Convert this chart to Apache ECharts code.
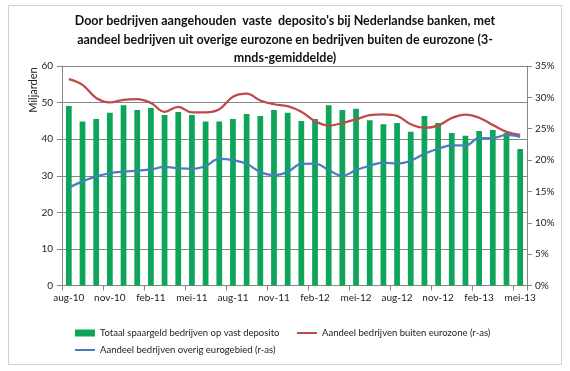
<!DOCTYPE html>
<html>
<head>
<meta charset="utf-8">
<script src="https://cdn.jsdelivr.net/npm/echarts@6/dist/echarts.min.js"></script>
<style>
html,body{margin:0;padding:0;background:#fff;}
#chart{width:570px;height:371px;}
</style>
</head>
<body>
<div id="chart"></div>
<script>
var categories = ['aug-10','sep-10','okt-10','nov-10','dec-10','jan-11','feb-11','mrt-11','apr-11','mei-11','jun-11','jul-11',
  'aug-11','sep-11','okt-11','nov-11','dec-11','jan-12','feb-12','mrt-12','apr-12','mei-12','jun-12','jul-12',
  'aug-12','sep-12','okt-12','nov-12','dec-12','jan-13','feb-13','mrt-13','apr-13','mei-13'];
var totaalDeposito = [49.1,44.8,45.5,47.2,49.3,48.0,48.5,46.6,47.4,46.6,44.8,44.8,45.5,46.9,46.3,48.0,47.2,45.0,45.5,49.3,48.0,48.3,45.2,44.1,44.4,42.0,46.3,44.4,41.7,40.9,42.2,42.5,41.7,37.3];
var aandeelBuiten = [32.9,32.0,29.9,29.2,29.6,29.7,29.1,27.7,28.5,27.6,27.6,28.1,30.1,30.6,29.5,28.9,28.6,27.7,26.2,25.5,25.9,26.5,27.15,27.3,27.05,25.7,25.15,25.5,26.7,27.25,26.75,25.6,24.5,24.0];
var aandeelOverig = [15.6,16.6,17.4,17.9,18.15,18.3,18.5,18.9,18.7,18.6,19.06,20.2,20.0,19.4,18.1,17.6,18.1,19.4,19.45,18.4,17.5,18.4,19.1,19.6,19.45,19.9,21.0,21.8,22.35,22.3,23.5,23.5,24.0,23.7];
var leftTicks = [0,10,20,30,40,50,60];
var rightTicks = [0,5,10,15,20,25,30,35];

var titleText = "Door bedrijven aangehouden  vaste  deposito's bij Nederlandse banken, met\naandeel bedrijven uit overige eurozone en bedrijven buiten de eurozone (3-\nmnds-gemiddelde)";
var names = ['Totaal spaargeld bedrijven op vast deposito','Aandeel bedrijven buiten eurozone (r-as)','Aandeel bedrijven overig eurogebied (r-as)'];

var FONT = 'Lato';
var GREEN = '#0EA55A', RED = '#BE4B48', BLUE = '#4A7EBB', GRID = '#868686';
var lineIcon = 'path://M0,0 L20,0 L20,2 L0,2 Z';
var legendText = {color:'#222', fontFamily:FONT, fontSize:9.5};

var chart = echarts.init(document.getElementById('chart'), null, {renderer:'canvas'});
chart.setOption({
  animation:false,
  backgroundColor:'#fff',
  graphic:[
    {type:'rect', shape:{x:8.5,y:5.5,width:553,height:359}, style:{fill:'none', stroke:'#d0d0d0', lineWidth:1}, silent:true},
    {type:'text', x:33, y:90, rotation:Math.PI/2, style:{text:'Miljarden', fill:'#222', font:'11px Lato', textAlign:'center', textVerticalAlign:'middle'}}
  ],
  title:{
    text:titleText, left:'center', top:7,
    textStyle:{fontFamily:FONT, fontWeight:'bold', fontSize:12.5, color:'#111', lineHeight:18.5}
  },
  legend:[
    {left:70, top:323, itemWidth:20, itemHeight:7, itemGap:4, textStyle:legendText,
     data:[{name:names[0], icon:'rect'}]},
    {left:292, top:323, itemWidth:20, itemHeight:7, itemGap:4, textStyle:legendText,
     data:[{name:names[1], icon:lineIcon}]},
    {left:70, top:340, itemWidth:20, itemHeight:7, itemGap:4, textStyle:legendText,
     data:[{name:names[2], icon:lineIcon}]}
  ],
  grid:{left:62, right:43, top:66, bottom:85.5, containLabel:false},
  xAxis:{
    type:'category', data:categories, boundaryGap:true,
    axisLine:{lineStyle:{color:GRID, width:1}},
    axisTick:{show:true, interval:2, length:5, lineStyle:{color:GRID}},
    axisLabel:{interval:2, color:'#222', fontFamily:FONT, fontSize:10, margin:7}
  },
  yAxis:[
    {type:'value', min:leftTicks[0], max:leftTicks[leftTicks.length-1], interval:10, position:'left',
     axisLine:{show:true, lineStyle:{color:GRID}},
     axisTick:{show:true, length:5, inside:false, lineStyle:{color:GRID}},
     axisLabel:{color:'#222', fontFamily:FONT, fontSize:10, margin:9},
     splitLine:{show:true, lineStyle:{color:GRID, width:1}}},
    {type:'value', min:rightTicks[0], max:rightTicks[rightTicks.length-1], interval:5, position:'right',
     axisLine:{show:true, lineStyle:{color:GRID}},
     axisTick:{show:true, length:5, inside:false, lineStyle:{color:GRID}},
     axisLabel:{color:'#222', fontFamily:FONT, fontSize:10, margin:8, formatter:'{value}%'},
     splitLine:{show:false}}
  ],
  series:[
    {name:names[0], type:'bar', data:totaalDeposito, yAxisIndex:0, barWidth:'42%',
     itemStyle:{color:GREEN}},
    {name:names[1], type:'line', data:aandeelBuiten, yAxisIndex:1, smooth:0.4, symbol:'none',
     lineStyle:{color:RED, width:2.25}, itemStyle:{color:RED}},
    {name:names[2], type:'line', data:aandeelOverig, yAxisIndex:1, smooth:0.4, symbol:'none',
     lineStyle:{color:BLUE, width:2.25}, itemStyle:{color:BLUE}}
  ]
});
</script>
</body>
</html>
